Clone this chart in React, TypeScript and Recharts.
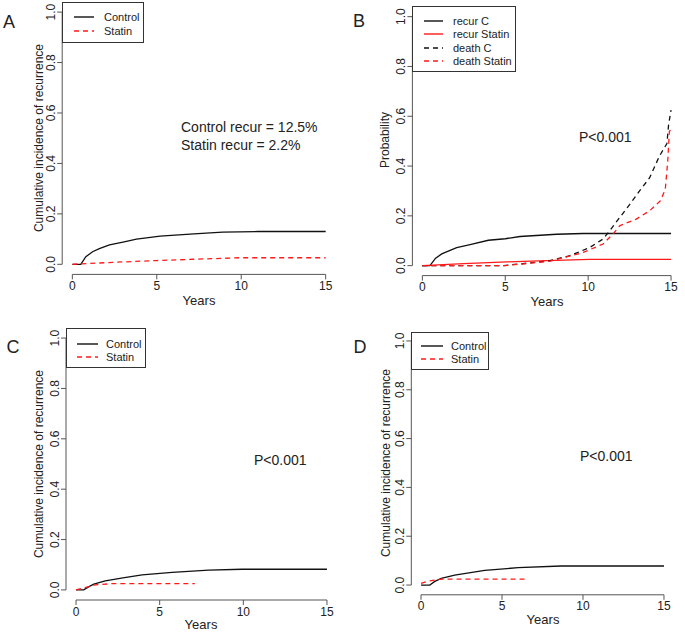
import React from 'react';
import { LineChart, Line, XAxis, YAxis, ReferenceLine } from 'recharts';

// panel A: cumulative incidence of recurrence
const aControlX = [0, 0.5, 0.8, 1.2, 1.6, 2.2, 3.0, 3.8, 5.2, 7.2, 8.9, 11, 15];
const aControlY = [0, 0, 0.03, 0.05, 0.062, 0.077, 0.088, 0.1, 0.112, 0.121, 0.128, 0.13, 0.13];
const aStatinX = [0, 0.5, 3.2, 5, 7.2, 9.9, 15];
const aStatinY = [0, 0.002, 0.01, 0.015, 0.02, 0.026, 0.026];

// panel B: competing risks
const bRecurCX = [0, 0.46, 0.8, 1.17, 2.07, 2.88, 3.98, 5.0, 5.89, 8.1, 9.7, 15];
const bRecurCY = [0, 0, 0.03, 0.047, 0.072, 0.084, 0.102, 0.108, 0.117, 0.126, 0.129, 0.129];
const bRecurSX = [0, 2.5, 5.1, 7.5, 10.1, 15];
const bRecurSY = [0, 0.008, 0.015, 0.02, 0.025, 0.025];
const bDeathCX = [0, 4.9, 5.9, 7.7, 8.9, 10.1, 10.9, 11.3, 11.9, 12.5, 13.1, 13.7, 14.3, 14.75, 14.85, 15];
const bDeathCY = [0, 0, 0.007, 0.02, 0.04, 0.073, 0.107, 0.14, 0.193, 0.245, 0.3, 0.352, 0.44, 0.49, 0.565, 0.625];
const bDeathSX = [0, 5, 7.7, 9.7, 10.9, 11.5, 11.9, 12.9, 13.7, 14.35, 14.65, 14.8, 14.9, 15];
const bDeathSY = [0, 0, 0.018, 0.053, 0.087, 0.127, 0.16, 0.187, 0.22, 0.26, 0.305, 0.42, 0.54, 0.545];

// panel C
const cControlX = [0, 0.46, 0.75, 1.06, 1.75, 2.8, 3.95, 5.74, 7.93, 9.92, 15];
const cControlY = [0, 0, 0.012, 0.023, 0.036, 0.048, 0.06, 0.07, 0.079, 0.082, 0.082];
const cStatinX = [0, 0.6, 1.15, 2.15, 7.1];
const cStatinY = [0, 0.01, 0.02, 0.025, 0.025];

// panel D
const dControlX = [0, 0.54, 0.85, 1.25, 2.08, 3.93, 5.99, 8.66, 15];
const dControlY = [0, 0, 0.015, 0.027, 0.041, 0.06, 0.071, 0.078, 0.078];
const dStatinX = [0, 0.43, 1.25, 6.6];
const dStatinY = [0.007, 0.016, 0.024, 0.024];

const xTicks = [0, 5, 10, 15];
const yTicks = [0, 0.2, 0.4, 0.6, 0.8, 1.0];

const FONT = '"Liberation Sans", Arial, sans-serif';
const BLACK = '#111';
const RED = '#ff1a1a';
const AXIS = '#555';
const W = 685;
const H = 633;

const pts = (xs: number[], ys: number[]) => xs.map((x, i) => ({ x, y: ys[i] }));

type Series = { xs: number[]; ys: number[]; color: string; dashed: boolean; label: string };
type Box = { left: number; top: number; right: number; bottom: number };

const YTick = (p: any) => (
  <text
    x={p.x}
    y={p.y}
    transform={`rotate(-90 ${p.x} ${p.y})`}
    textAnchor="middle"
    fontSize={12}
    fontFamily={FONT}
    fill="#222"
  >
    {Number(p.payload.value).toFixed(1)}
  </text>
);

function Panel({ box, series }: { box: Box; series: Series[] }) {
  const yw = 30;
  const xh = 30;
  return (
    <div style={{ position: 'absolute', left: 0, top: 0 }}>
      <LineChart
        width={W}
        height={H}
        margin={{ top: box.top, left: box.left - yw, right: W - box.right, bottom: H - box.bottom - xh }}
      >
        <XAxis
          type="number"
          dataKey="x"
          domain={[-0.6, 15.6]}
          ticks={xTicks}
          height={xh}
          axisLine={false}
          tickLine={{ stroke: AXIS }}
          tickSize={5}
          tick={{ fontSize: 12, fontFamily: FONT, fill: '#222' }}
          allowDataOverflow
        />
        <YAxis
          type="number"
          domain={[-0.04, 1.04]}
          ticks={yTicks}
          width={yw}
          axisLine={false}
          tickLine={{ stroke: AXIS }}
          tickSize={5}
          tick={<YTick />}
          allowDataOverflow
        />
        <ReferenceLine segment={[{ x: 0, y: -0.04 }, { x: 15, y: -0.04 }]} stroke={AXIS} ifOverflow="visible" />
        <ReferenceLine segment={[{ x: -0.6, y: 0 }, { x: -0.6, y: 1 }]} stroke={AXIS} ifOverflow="visible" />
        {series.map((s) => (
          <Line
            key={s.label}
            data={pts(s.xs, s.ys)}
            dataKey="y"
            type="linear"
            stroke={s.color}
            strokeWidth={1.3}
            strokeDasharray={s.dashed ? '5 4' : undefined}
            dot={false}
            isAnimationActive={false}
          />
        ))}
      </LineChart>
    </div>
  );
}

function LegendBox({ left, top, width, height, rows, lineX, lineW, textX, series }: any) {
  return (
    <div
      style={{
        position: 'absolute',
        left,
        top,
        width,
        height,
        border: '1px solid #333',
        boxSizing: 'border-box',
        background: '#fff',
        fontFamily: FONT,
        fontSize: 11,
        color: '#222',
      }}
    >
      {series.map((s: Series, i: number) => (
        <div key={s.label}>
          <svg style={{ position: 'absolute', left: lineX, top: rows[i] - 2 }} width={lineW} height={4}>
            <line x1={0} y1={2} x2={lineW} y2={2} stroke={s.color} strokeWidth={1.4} strokeDasharray={s.dashed ? '5 4' : undefined} />
          </svg>
          <div style={{ position: 'absolute', left: textX, top: rows[i] - 7, lineHeight: '14px', whiteSpace: 'nowrap' }}>{s.label}</div>
        </div>
      ))}
    </div>
  );
}

const Txt = ({ x, y, size, children, rotate, anchor }: any) => (
  <div
    style={{
      position: 'absolute',
      left: x,
      top: y,
      fontFamily: FONT,
      fontSize: size,
      color: '#222',
      whiteSpace: 'nowrap',
      lineHeight: 1,
      transform: `translate(${anchor === 'left' ? '0' : '-50%'}, -50%)${rotate ? ' rotate(-90deg)' : ''}`,
    }}
  >
    {children}
  </div>
);

export default function App() {
  const aSeries: Series[] = [
    { xs: aControlX, ys: aControlY, color: BLACK, dashed: false, label: 'Control' },
    { xs: aStatinX, ys: aStatinY, color: RED, dashed: true, label: 'Statin' },
  ];
  const bSeries: Series[] = [
    { xs: bRecurCX, ys: bRecurCY, color: BLACK, dashed: false, label: 'recur C' },
    { xs: bRecurSX, ys: bRecurSY, color: RED, dashed: false, label: 'recur Statin' },
    { xs: bDeathCX, ys: bDeathCY, color: BLACK, dashed: true, label: 'death C' },
    { xs: bDeathSX, ys: bDeathSY, color: RED, dashed: true, label: 'death Statin' },
  ];
  const cSeries: Series[] = [
    { xs: cControlX, ys: cControlY, color: BLACK, dashed: false, label: 'Control' },
    { xs: cStatinX, ys: cStatinY, color: RED, dashed: true, label: 'Statin' },
  ];
  const dSeries: Series[] = [
    { xs: dControlX, ys: dControlY, color: BLACK, dashed: false, label: 'Control' },
    { xs: dStatinX, ys: dStatinY, color: RED, dashed: true, label: 'Statin' },
  ];
  const yTitle = 'Cumulative incidence of recurrence';

  return (
    <div style={{ position: 'absolute', left: 0, top: 0, width: W, height: H, background: '#fff', overflow: 'hidden' }}>
      <Panel box={{ left: 62.2, top: 2, right: 335.8, bottom: 274.4 }} series={aSeries} />
      <Panel box={{ left: 412.4, top: 6.7, right: 681, bottom: 275.6 }} series={bSeries} />
      <Panel box={{ left: 66, top: 328, right: 337, bottom: 600 }} series={cSeries} />
      <Panel box={{ left: 411.3, top: 331.2, right: 673.7, bottom: 594.8 }} series={dSeries} />

      <LegendBox left={62} top={2} width={82} height={41} rows={[14, 28]} lineX={11} lineW={20} textX={41} series={aSeries} />
      <LegendBox left={412} top={6} width={104} height={66} rows={[14, 27.3, 40.7, 54]} lineX={11} lineW={19} textX={40} series={bSeries} />
      <LegendBox left={66} top={328} width={80} height={40} rows={[15, 28]} lineX={10} lineW={21} textX={39} series={cSeries} />
      <LegendBox left={411} top={332} width={78} height={38} rows={[13, 26]} lineX={9} lineW={22} textX={39} series={dSeries} />

      <Txt x={9} y={22} size={18}>A</Txt>
      <Txt x={359} y={21} size={18}>B</Txt>
      <Txt x={13} y={347} size={18}>C</Txt>
      <Txt x={360} y={347} size={18}>D</Txt>

      <Txt x={39} y={138} size={12} rotate>{yTitle}</Txt>
      <Txt x={385} y={140} size={12} rotate>Probability</Txt>
      <Txt x={39} y={464} size={12} rotate>{yTitle}</Txt>
      <Txt x={386} y={463} size={12} rotate>{yTitle}</Txt>

      <Txt x={199} y={300} size={13}>Years</Txt>
      <Txt x={547} y={301} size={13}>Years</Txt>
      <Txt x={201} y={624} size={13}>Years</Txt>
      <Txt x={543} y={619} size={13}>Years</Txt>

      <Txt x={181} y={127} size={14} anchor="left">Control recur = 12.5%</Txt>
      <Txt x={181} y={145} size={14} anchor="left">Statin recur = 2.2%</Txt>
      <Txt x={579} y={137} size={14} anchor="left">P&lt;0.001</Txt>
      <Txt x={254} y={460} size={14} anchor="left">P&lt;0.001</Txt>
      <Txt x={580} y={456} size={14} anchor="left">P&lt;0.001</Txt>
    </div>
  );
}
